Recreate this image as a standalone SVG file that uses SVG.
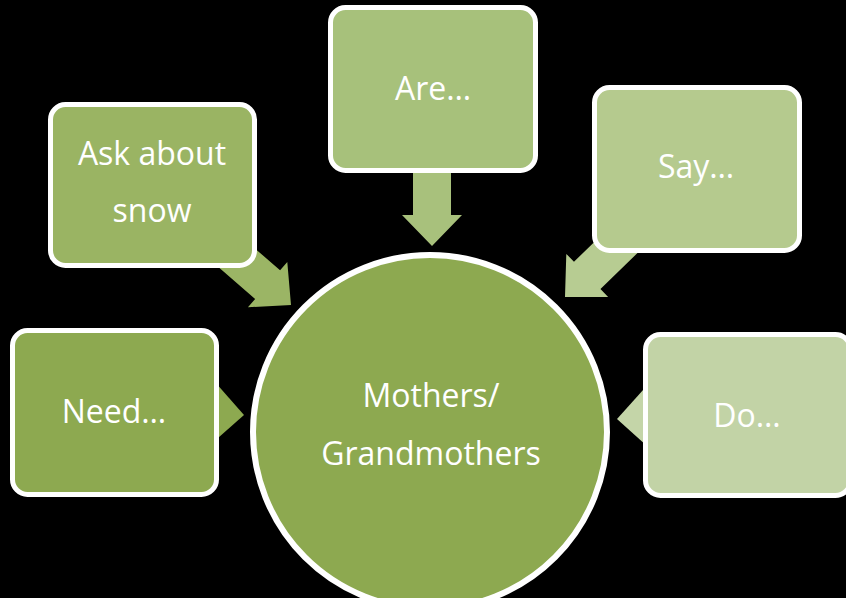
<svg xmlns="http://www.w3.org/2000/svg" width="846" height="598" viewBox="0 0 846 598">
<style>
.box{stroke:#ffffff;stroke-width:5}
.lbl{font-family:"Open Sans","Noto Sans","Liberation Sans",sans-serif;font-size:32px;fill:#ffffff;text-anchor:middle}
</style>
<defs>
<polygon id="arr" points="0,0 -31,-30 -31,-19 -110,-19 -110,19 -31,19 -31,30"/>
<polygon id="tri" points="0,0 -28,-28 -28,28"/>
</defs>
<rect x="0" y="0" width="846" height="598" fill="#000000"/>
<g id="connectors">
<use href="#arr" transform="translate(291,305) rotate(41)" fill="#9BB565"/>
<use href="#arr" transform="translate(432,246) rotate(90)" fill="#A8C17C"/>
<use href="#arr" transform="translate(565,297) rotate(135.8)" fill="#B7CC92"/>
<use href="#tri" transform="translate(244,415) rotate(3.6)" fill="#8DA950"/>
<use href="#tri" transform="translate(617,419) rotate(177)" fill="#C4D5A8"/>
</g>
<g id="center">
<circle cx="430" cy="432" r="177" fill="#8DA950" stroke="#ffffff" stroke-width="6"/>
<text class="lbl" x="431" y="407">Mothers/</text>
<text class="lbl" x="431" y="465">Grandmothers</text>
</g>
<g id="need">
<rect class="box" x="12.5" y="330.5" width="204" height="164" rx="15" fill="#8DA950"/>
<text class="lbl" x="114" y="423">Need…</text>
</g>
<g id="ask">
<rect class="box" x="50.5" y="104.5" width="204" height="161" rx="15" fill="#9AB463"/>
<text class="lbl" x="152" y="165">Ask about</text>
<text class="lbl" x="152" y="222">snow</text>
</g>
<g id="are">
<rect class="box" x="330.5" y="7.5" width="205" height="163" rx="15" fill="#A7C17B"/>
<text class="lbl" x="433" y="100">Are…</text>
</g>
<g id="say">
<rect class="box" x="594.5" y="87.5" width="205" height="163" rx="15" fill="#B5CA8E"/>
<text class="lbl" x="696" y="178">Say…</text>
</g>
<g id="do">
<rect class="box" x="645.5" y="334.5" width="205" height="161" rx="15" fill="#C2D3A6"/>
<text class="lbl" x="747" y="427">Do…</text>
</g>
</svg>
